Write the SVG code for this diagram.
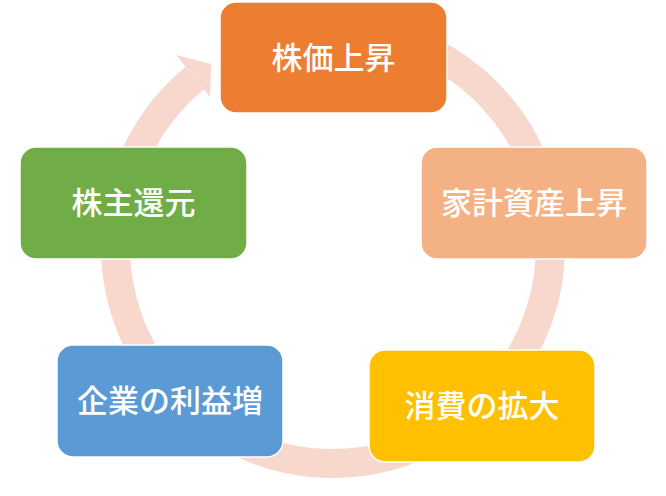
<svg xmlns="http://www.w3.org/2000/svg" width="666" height="496" viewBox="0 0 666 496">
<style>
.box{stroke:#ffffff;stroke-width:1.5}
.lbl{font-family:"Noto Sans CJK JP","Noto Sans CJK SC",sans-serif;font-weight:500;font-size:31px;fill:#ffffff;text-anchor:middle;dominant-baseline:central}
.ring{fill:none;stroke:#F8D7CC;stroke-width:29}
</style>
<rect width="666" height="496" fill="#ffffff"/>
<g id="connectors">
<path class="ring" d="M370.8,31.8 A217.5,217.5 0 1 1 194.6,78.2"/>
<polygon points="176,55 211,64 210,97" fill="#F8D7CC"/>
</g>
<g id="node-kabuka">
<rect class="box" x="220" y="2" width="227" height="111" rx="16" fill="#ED7D31"/>
<text class="lbl" x="333.5" y="55">株価上昇</text>
</g>
<g id="node-kakei">
<rect class="box" x="421" y="147" width="226" height="112" rx="16" fill="#F4B183"/>
<text class="lbl" x="534" y="200">家計資産上昇</text>
</g>
<g id="node-shohi">
<rect class="box" x="369" y="350" width="226" height="112" rx="16" fill="#FFC000"/>
<text class="lbl" x="482" y="403">消費の拡大</text>
</g>
<g id="node-kigyo">
<rect class="box" x="57" y="345" width="226" height="112" rx="16" fill="#5B9BD5"/>
<text class="lbl" x="170" y="398">企業の利益増</text>
</g>
<g id="node-kabunushi">
<rect class="box" x="20" y="147" width="227" height="112" rx="16" fill="#70AD47"/>
<text class="lbl" x="133.5" y="200">株主還元</text>
</g>
</svg>
